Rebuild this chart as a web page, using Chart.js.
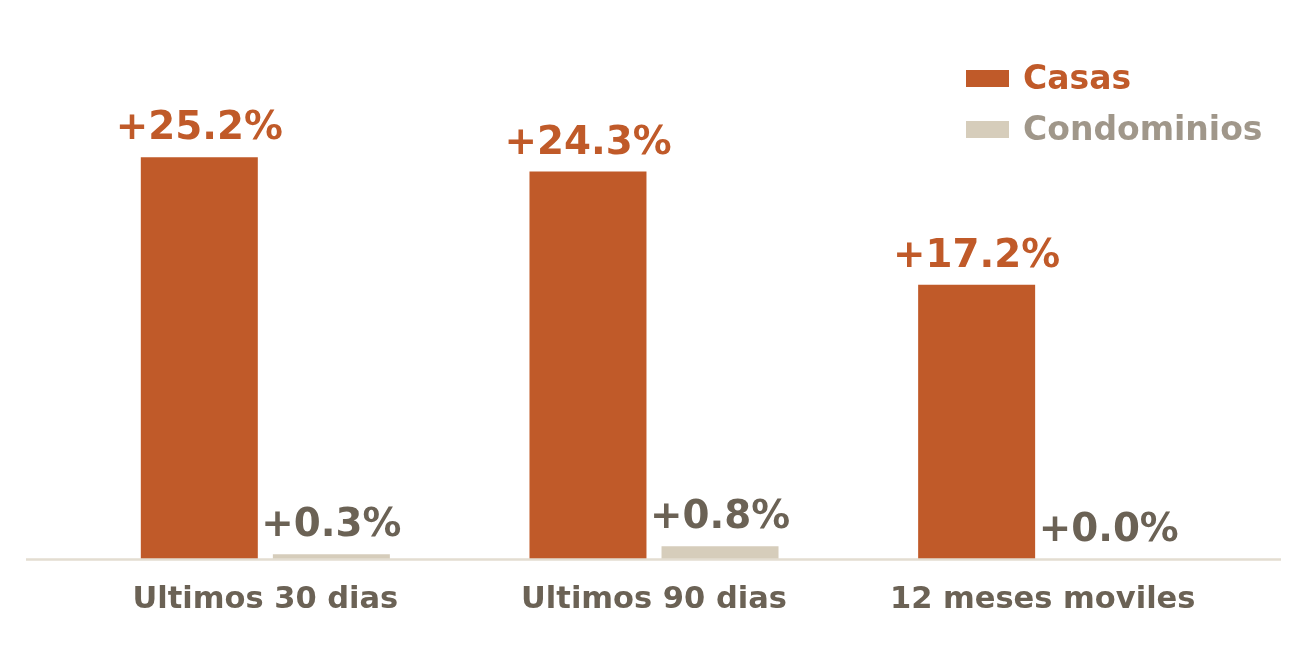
<!DOCTYPE html>
<html>
<head>
<meta charset="utf-8">
<script src="https://cdn.jsdelivr.net/npm/chart.js@4.4.0/dist/chart.umd.min.js"></script>
<style>
  html, body { margin: 0; padding: 0; background: #ffffff; }
  #wrap { width: 1307px; height: 664px; }
</style>
</head>
<body>
<div id="wrap"><canvas id="c" width="1307" height="664"></canvas></div>
<script>
const categories = ["Ultimos 30 dias", "Ultimos 90 dias", "12 meses moviles"];
const seriesNames = ["Casas", "Condominios"];
const casas = [25.2, 24.3, 17.2];
const condominios = [0.3, 0.8, 0.0];

const CASAS_COLOR = "#c05a29";
const CONDO_COLOR = "#d6cdbb";
const CONDO_LABEL_COLOR = "#6b6255";
const CONDO_LEGEND_TEXT = "#a0978a";
const FONT = "'DejaVu Sans', sans-serif";

const baselinePlugin = {
  id: "baseline",
  afterDatasetsDraw(chart) {
    const ctx = chart.ctx;
    const y = chart.scales.y.getPixelForValue(0);
    ctx.save();
    ctx.strokeStyle = "#e3ddd1";
    ctx.lineWidth = 2.5;
    ctx.beginPath();
    ctx.moveTo(26, y + 0.5);
    ctx.lineTo(1281, y + 0.5);
    ctx.stroke();
    ctx.restore();
  }
};

const valueLabels = {
  id: "valueLabels",
  afterDatasetsDraw(chart) {
    const ctx = chart.ctx;
    ctx.save();
    ctx.font = "bold 38.8px " + FONT;
    ctx.textAlign = "center";
    ctx.textBaseline = "alphabetic";
    chart.data.datasets.forEach((ds, di) => {
      const meta = chart.getDatasetMeta(di);
      meta.data.forEach((bar, i) => {
        const v = ds.data[i];
        ctx.fillStyle = di === 0 ? CASAS_COLOR : CONDO_LABEL_COLOR;
        ctx.fillText("+" + v.toFixed(1) + "%", bar.x, bar.y - 18);
      });
    });
    ctx.restore();
  }
};

const customLegend = {
  id: "customLegend",
  afterDraw(chart) {
    const ctx = chart.ctx;
    ctx.save();
    ctx.font = "bold 33px " + FONT;
    ctx.textAlign = "left";
    ctx.textBaseline = "middle";
    const textColors = [CASAS_COLOR, CONDO_LEGEND_TEXT];
    chart.data.datasets.forEach((ds, di) => {
      const yTop = 70 + di * 51;
      ctx.fillStyle = ds.backgroundColor;
      ctx.fillRect(966, yTop, 43, 17);
      ctx.fillStyle = textColors[di];
      ctx.fillText(ds.label, 1023, yTop + 10);
    });
    ctx.restore();
  }
};

new Chart(document.getElementById("c"), {
  type: "bar",
  data: {
    labels: categories,
    datasets: [
      { label: seriesNames[0], data: casas, backgroundColor: CASAS_COLOR,
        categoryPercentage: 0.6795, barPercentage: 0.886 },
      { label: seriesNames[1], data: condominios, backgroundColor: CONDO_COLOR,
        categoryPercentage: 0.6795, barPercentage: 0.886 }
    ]
  },
  options: {
    responsive: false,
    devicePixelRatio: 1,
    animation: false,
    layout: { padding: { left: 71, right: 70, top: 1, bottom: 0 } },
    plugins: {
      legend: { display: false },
      tooltip: { enabled: false }
    },
    scales: {
      x: {
        grid: { display: false, drawTicks: false },
        border: { display: false },
        ticks: {
          color: CONDO_LABEL_COLOR,
          font: { family: FONT, size: 30.5, weight: "bold" },
          padding: 23,
          maxRotation: 0
        },
        afterFit(scale) { scale.height = 105; }
      },
      y: {
        display: false,
        min: 0,
        max: 35
      }
    }
  },
  plugins: [baselinePlugin, valueLabels, customLegend]
});
</script>
</body>
</html>
